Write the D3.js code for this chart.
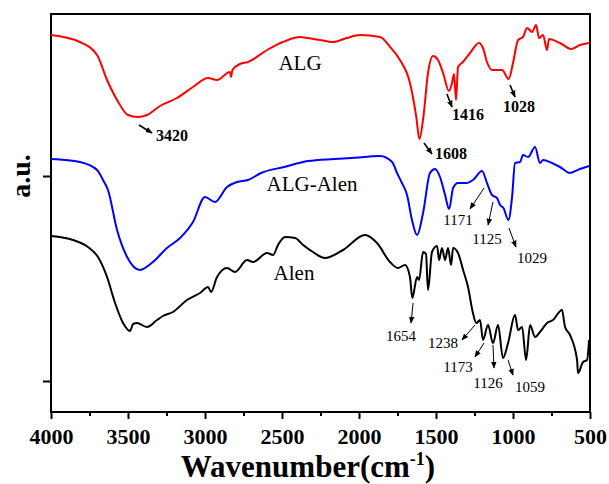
<!DOCTYPE html>
<html>
<head>
<meta charset="utf-8">
<script src="https://cdn.jsdelivr.net/npm/d3@7"></script>
<style>
  body { margin: 0; background: #fff; }
  svg text { font-family: "Liberation Serif", "Times New Roman", serif; }
</style>
</head>
<body>
<svg id="chart" width="609" height="484"></svg>
<script>
// spectra: [wavenumber, intensity (a.u.)]
const algData = [
  [4000, 377], [3812, 370], [3701, 357], [3636, 332], [3571, 312], [3500, 297], [3435, 295],
  [3377, 297], [3292, 306], [3182, 314], [3078, 325], [2980, 334], [2922, 332], [2838, 340],
  [2831, 335], [2822, 342], [2773, 348], [2721, 350], [2597, 362], [2494, 370], [2383, 375],
  [2331, 374], [2253, 372], [2169, 370], [2080, 374], [1993, 377], [1863, 375], [1798, 365],
  [1734, 352], [1669, 329], [1628, 295], [1608, 273], [1582, 295], [1552, 339], [1519, 356],
  [1487, 352], [1454, 339], [1416, 321], [1396, 329], [1383, 338], [1370, 312], [1357, 345],
  [1325, 350], [1279, 359], [1221, 369], [1195, 364], [1169, 350], [1136, 342], [1071, 342],
  [1028, 333], [1000, 349], [967, 372], [935, 375], [909, 384], [876, 380], [850, 387],
  [831, 374], [805, 377], [779, 362], [766, 373], [695, 369], [623, 363], [565, 367], [506, 369]
];
const algAlenData = [
  [4000, 253], [3812, 250], [3701, 242], [3662, 232], [3630, 222], [3571, 182], [3506, 155],
  [3422, 142], [3338, 150], [3247, 164], [3162, 174], [3078, 190], [3000, 215], [2935, 210],
  [2857, 225], [2792, 230], [2721, 232], [2636, 239], [2487, 245], [2331, 251], [2162, 253],
  [2052, 254], [1863, 256], [1785, 250], [1753, 239], [1721, 229], [1688, 217], [1656, 192],
  [1623, 177], [1584, 199], [1539, 239], [1506, 243], [1474, 235], [1441, 217], [1415, 203],
  [1389, 224], [1357, 229], [1299, 229], [1260, 232], [1201, 241], [1169, 229], [1136, 217],
  [1104, 214], [1084, 207], [1062, 204], [1030, 192], [1006, 215], [987, 249], [954, 250],
  [935, 257], [902, 255], [857, 265], [825, 249], [805, 252], [747, 249], [695, 245],
  [630, 239], [565, 243], [506, 246]
];
const alenData = [
  [4000, 176], [3857, 172], [3760, 165], [3695, 155], [3636, 135], [3584, 109], [3532, 89],
  [3487, 81], [3467, 88], [3442, 89], [3377, 85], [3312, 92], [3273, 96], [3208, 100],
  [3117, 112], [3032, 119], [2980, 125], [2961, 120], [2922, 135], [2857, 144], [2805, 140],
  [2727, 152], [2688, 150], [2597, 159], [2558, 157], [2526, 167], [2480, 175], [2415, 174],
  [2363, 167], [2299, 160], [2221, 154], [2104, 162], [1961, 177], [1883, 169], [1799, 150],
  [1747, 144], [1701, 147], [1669, 135], [1654, 114], [1623, 135], [1610, 132], [1584, 160],
  [1565, 158], [1552, 122], [1526, 160], [1493, 166], [1480, 152], [1461, 164], [1441, 152],
  [1422, 164], [1402, 147], [1389, 164], [1357, 159], [1324, 142], [1292, 125], [1260, 99],
  [1238, 89], [1214, 92], [1195, 72], [1162, 87], [1130, 69], [1097, 87], [1065, 54],
  [1032, 69], [987, 97], [967, 82], [941, 85], [915, 52], [889, 87], [857, 75], [825, 80],
  [779, 89], [740, 92], [682, 102], [662, 85], [630, 77], [584, 52], [578, 39], [545, 50],
  [519, 52], [506, 72]
];

const xTicks = [4000, 3500, 3000, 2500, 2000, 1500, 1000, 500];
const xMinorTicks = [3750, 3250, 2750, 2250, 1750, 1250, 750];
const yTicks = [31, 236];

// curve labels: [text, wavenumber, intensity]
const seriesLabels = [
  ["ALG", 2383, 349],
  ["ALG-Alen", 2305, 228],
  ["Alen", 2422, 139]
];
// peak notes: [text, label wn, label int, arrow from wn, from int, to wn, to int, bold]
const peakNotes = [
  ["3420", 3214, 277, 3429, 287, 3344, 279, true],
  ["1608", 1402, 259, 1578, 269, 1526, 258, true],
  ["1416", 1292, 298, 1429, 318, 1396, 305, true],
  ["1028", 961, 306, 1019, 327, 987, 315, true],
  ["1171", 1357, 192, 1188, 224, 1279, 203, false],
  ["1125", 1169, 173, 1130, 210, 1162, 187, false],
  ["1029", 877, 154, 1026, 184, 981, 165, false],
  ["1654", 1727, 76, 1649, 109, 1662, 89, false],
  ["1238", 1455, 69, 1247, 87, 1331, 72, false],
  ["1173", 1357, 45, 1188, 69, 1247, 55, false],
  ["1126", 1162, 29, 1130, 67, 1123, 44, false],
  ["1059", 890, 25, 1032, 52, 1000, 37, false]
];

const svg = d3.select("#chart");
const plot = { left: 51, right: 590, top: 14, bottom: 412 };

const x = d3.scaleLinear().domain([4000, 500]).range([plot.left, plot.right]);
const y = d3.scaleLinear().domain([0, 398]).range([plot.bottom, plot.top]);

svg.append("defs").append("marker")
  .attr("id", "arrow")
  .attr("viewBox", "0 0 10 10")
  .attr("refX", 9).attr("refY", 5)
  .attr("markerWidth", 7).attr("markerHeight", 7)
  .attr("markerUnits", "userSpaceOnUse")
  .attr("orient", "auto")
  .append("path")
  .attr("d", "M0,1L10,5L0,9z")
  .attr("fill", "#000");

// x axis, major + minor ticks
const xAxis = svg.append("g")
  .attr("transform", "translate(0," + plot.bottom + ")")
  .call(d3.axisBottom(x).tickValues(xTicks).tickSize(7).tickPadding(9).tickFormat(d3.format("d")));
xAxis.select(".domain").remove();
xAxis.selectAll("line").attr("stroke-width", 2);
xAxis.selectAll("text")
  .style("font-size", "22px").style("font-weight", "bold")
  .style("font-family", "'Liberation Serif', serif").attr("fill", "#000");

const xMinor = svg.append("g")
  .attr("transform", "translate(0," + plot.bottom + ")")
  .call(d3.axisBottom(x).tickValues(xMinorTicks).tickSize(4).tickFormat(""));
xMinor.select(".domain").remove();
xMinor.selectAll("line").attr("stroke-width", 2);

const yAxis = svg.append("g")
  .attr("transform", "translate(" + plot.left + ",0)")
  .call(d3.axisLeft(y).tickValues(yTicks).tickSize(8).tickFormat(""));
yAxis.select(".domain").remove();
yAxis.selectAll("line").attr("stroke-width", 2);

// frame
svg.append("rect")
  .attr("x", plot.left).attr("y", plot.top)
  .attr("width", plot.right - plot.left).attr("height", plot.bottom - plot.top)
  .attr("fill", "none").attr("stroke", "#000").attr("stroke-width", 2);

const line = d3.line()
  .x(d => x(d[0]))
  .y(d => y(d[1]))
  .curve(d3.curveMonotoneX);

[[algData, "#ff0000"], [algAlenData, "#0000ff"], [alenData, "#000000"]].forEach(s => {
  svg.append("path")
    .datum(s[0])
    .attr("d", line)
    .attr("fill", "none")
    .attr("stroke", s[1])
    .attr("stroke-width", 2)
    .attr("stroke-linejoin", "round");
});

seriesLabels.forEach(l => {
  svg.append("text")
    .attr("x", x(l[1])).attr("y", y(l[2]))
    .attr("text-anchor", "middle")
    .attr("dominant-baseline", "central")
    .style("font-size", "21px")
    .text(l[0]);
});

peakNotes.forEach(p => {
  svg.append("line")
    .attr("x1", x(p[3])).attr("y1", y(p[4]))
    .attr("x2", x(p[5])).attr("y2", y(p[6]))
    .attr("stroke", "#000")
    .attr("stroke-width", p[7] ? 1.6 : 1)
    .attr("marker-end", "url(#arrow)");
  svg.append("text")
    .attr("x", x(p[1])).attr("y", y(p[2]))
    .attr("text-anchor", "middle")
    .attr("dominant-baseline", "central")
    .style("font-size", p[7] ? "16px" : "15px")
    .style("font-weight", p[7] ? "bold" : "normal")
    .text(p[0]);
});

// axis titles
const xTitle = svg.append("text")
  .attr("x", 308).attr("y", 477)
  .attr("text-anchor", "middle")
  .style("font-size", "31px").style("font-weight", "bold");
xTitle.append("tspan").text("Wavenumber(cm");
xTitle.append("tspan").attr("dy", -12).style("font-size", "18px").text("-1");
xTitle.append("tspan").attr("dy", 12).text(")");

svg.append("text")
  .attr("transform", "translate(30," + y(236) + ") rotate(-90)")
  .attr("text-anchor", "middle")
  .style("font-size", "28px").style("font-weight", "bold")
  .text("a.u.");
</script>
</body>
</html>
